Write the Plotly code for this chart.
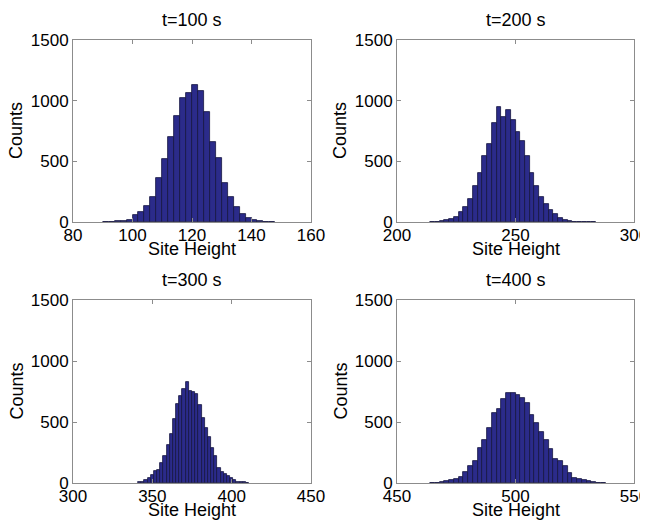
import plotly.graph_objects as go

# ---- data (counts per 2-unit bin) ----
bin_width = 2
titles = ["t=100 s", "t=200 s", "t=300 s", "t=400 s"]
x_ranges = [[80, 160], [200, 300], [300, 450], [450, 550]]
x_ticks = [[80, 100, 120, 140, 160], [200, 250, 300], [300, 350, 400, 450], [450, 500, 550]]
y_ticks = [0, 500, 1000, 1500]

start_100 = 90
counts_100 = [2, 3, 5, 8, 19, 58, 80, 129, 203, 360, 516, 700, 873, 1022, 1060, 1129,
              1082, 904, 662, 530, 324, 209, 121, 69, 33, 16, 8, 3, 1]

start_200 = 214
counts_200 = [2, 4, 8, 15, 25, 45, 80, 122, 187, 298, 400, 542, 644, 818, 945, 865,
              925, 838, 740, 664, 540, 408, 296, 210, 150, 100, 64, 30, 18, 8, 4, 3, 2, 1, 1]

start_300 = 341
counts_300 = [11, 11, 22, 44, 69, 99, 104, 165, 225, 308, 398, 525, 646, 714, 769, 827,
              756, 742, 731, 637, 536, 453, 374, 291, 220, 126, 93, 77, 55, 38, 25, 11, 5, 5, 2]

start_400 = 464
counts_400 = [3, 3, 5, 16, 27, 36, 47, 93, 143, 179, 283, 352, 448, 577, 607, 692, 739,
              739, 720, 700, 659, 560, 490, 415, 352, 280, 198, 179, 143, 80, 38, 30, 25,
              14, 5, 3, 2]

starts = [start_100, start_200, start_300, start_400]
counts = [counts_100, counts_200, counts_300, counts_400]

# ---- layout geometry (pixels in the 648x523 window; page body has an 8px margin) ----
OFF = 8
W, H = 648 - OFF, 523 - OFF
px_x = [(73, 311), (397, 634), (73, 311), (397, 634)]
px_y = [(40, 222), (40, 222), (300, 483), (300, 483)]

FONT = "Liberation Sans, Arial, sans-serif"
FILL = "#2b2b8a"
EDGE = "#151540"
AXC = "#8c8c8c"


def fx(p):
    return (p - OFF) / W


def fy(p):
    return 1 - (p - OFF) / H


fig = go.Figure()
annotations = []
for i in range(4):
    xa = "x" if i == 0 else f"x{i+1}"
    ya = "y" if i == 0 else f"y{i+1}"
    centers = [starts[i] + bin_width * k + bin_width / 2 for k in range(len(counts[i]))]
    fig.add_trace(go.Bar(x=centers, y=counts[i], width=bin_width, xaxis=xa, yaxis=ya,
                         marker=dict(color=FILL, line=dict(color=EDGE, width=0.8)),
                         showlegend=False, hoverinfo="x+y"))
    x0, x1 = px_x[i]
    y0, y1 = px_y[i]
    key_x = "xaxis" if i == 0 else f"xaxis{i+1}"
    key_y = "yaxis" if i == 0 else f"yaxis{i+1}"
    fig.layout[key_x] = dict(domain=[fx(x0), fx(x1)], range=x_ranges[i], tickvals=x_ticks[i],
                             anchor=ya, showline=True, linecolor=AXC, linewidth=1,
                             mirror="allticks", ticks="inside", ticklen=4, tickcolor=AXC,
                             showgrid=False, zeroline=False, automargin=False,
                             ticklabeloverflow="allow", ticklabelstandoff=-2,
                             tickfont=dict(family=FONT, size=17, color="#000"))
    fig.layout[key_y] = dict(domain=[fy(y1), fy(y0)], range=[0, 1500], tickvals=y_ticks,
                             anchor=xa, showline=True, linecolor=AXC, linewidth=1,
                             mirror="allticks", ticks="inside", ticklen=4, tickcolor=AXC,
                             showgrid=False, zeroline=False, automargin=False,
                             ticklabeloverflow="allow",
                             tickfont=dict(family=FONT, size=17, color="#000"))
    cx = fx((x0 + x1) / 2)
    annotations.append(dict(text=titles[i], x=cx, y=fy(y0 - 20), xref="paper", yref="paper",
                            xanchor="center", yanchor="middle", showarrow=False,
                            font=dict(family=FONT, size=18, color="#000")))
    annotations.append(dict(text="Site Height", x=cx, y=fy(y1 + 27), xref="paper", yref="paper",
                            xanchor="center", yanchor="middle", showarrow=False,
                            font=dict(family=FONT, size=18, color="#000")))
    annotations.append(dict(text="Counts", x=fx(x0 - 57), y=fy((y0 + y1) / 2),
                            xref="paper", yref="paper", textangle=-90,
                            xanchor="center", yanchor="middle", showarrow=False,
                            font=dict(family=FONT, size=18, color="#000")))

fig.update_layout(width=W, height=H, margin=dict(l=0, r=0, t=0, b=0, autoexpand=False),
                  paper_bgcolor="white", plot_bgcolor="white", bargap=0,
                  annotations=annotations)
fig.write_html("out.html")
